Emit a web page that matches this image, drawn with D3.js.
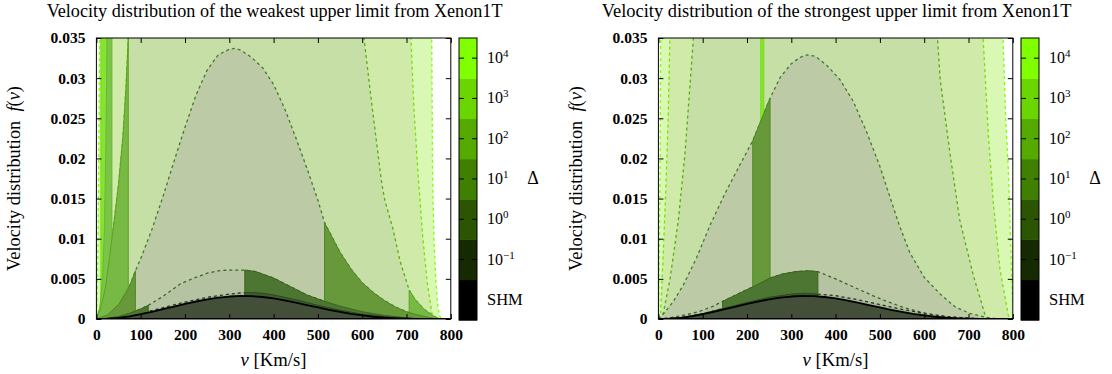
<!DOCTYPE html>
<html>
<head>
<meta charset="utf-8">
<script src="https://cdn.jsdelivr.net/npm/d3@7"></script>
<style>
  body { margin: 0; background: #fff; }
  svg { display: block; }
</style>
</head>
<body>
<svg id="chart" width="1112" height="374"></svg>
<script>
const SERIF = '"Liberation Serif"';

// axis ticks and colour-bar levels
const velocityTicks = [0, 100, 200, 300, 400, 500, 600, 700, 800];
const densityTicks = [0, 0.005, 0.01, 0.015, 0.02, 0.025, 0.03, 0.035];
const densityLabels = ['0', '0.005', '0.01', '0.015', '0.02', '0.025', '0.03', '0.035'];
const deltaLevels = ['SHM', '−1', '0', '1', '2', '3', '4'];
const panelTitles = [
  'Velocity distribution of the weakest upper limit from Xenon1T',
  'Velocity distribution of the strongest upper limit from Xenon1T'
];

// [v, f(v)]; 0.04 marks points above the frame
const shmCurve = [[0,0],[25,0.00004],[50,0.00015],[75,0.00034],[100,0.0006],[125,0.0009],[150,0.00122],
  [175,0.00155],[200,0.00188],[225,0.00218],[250,0.00245],[275,0.00265],[300,0.0028],[325,0.00287],
  [350,0.00285],[375,0.00274],[400,0.00256],[425,0.00232],[450,0.00204],[475,0.00174],[500,0.00144],
  [525,0.00115],[550,0.00088],[575,0.00064],[600,0.00044],[625,0.00028],[650,0.00016],[675,0.00008],
  [700,0.00003],[725,0.00001],[750,0],[800,0]];

// weakest limit
const weakLime = [[0,0],[2,0.004],[4,0.012],[6,0.025],[7,0.035],[8,0.04],[10,0.04],[23,0.04],[745,0.04],
  [757,0.035],[759,0.0173],[762,0.01],[766,0.005],[770,0.002],[774,0.0005],[778,0],[800,0]];
const weakLimeOn = [[10, 23]];
const weakPale = [[0,0],[8,0.0015],[14,0.005],[18,0.011],[21,0.02],[23,0.029],[24,0.035],[25,0.04],
  [35,0.04],[700,0.04],[710,0.035],[717,0.026],[727,0.0173],[737,0.01],[747,0.0045],[757,0.0008],
  [762,0],[800,0]];
const weakPaleOn = [[0, 35]];
const weakMid = [[0,0],[10,0.0014],[20,0.0038],[30,0.0078],[40,0.0122],[50,0.0168],[60,0.0228],[67,0.029],
  [72,0.035],[74,0.04],[595,0.04],[604,0.035],[620,0.0275],[643,0.0173],[651,0.0148],[670,0.0111],
  [685,0.0073],[706,0.0036],[720,0.0024],[740,0.0012],[760,0.0004],[775,0],[800,0]];
const weakMidOn = [[0, 72], [706, 800]];
const weakBell = [[0,0],[25,0.0005],[50,0.0018],[75,0.0041],[88,0.006],[100,0.0075],[125,0.0111],
  [150,0.0152],[175,0.0196],[200,0.0239],[225,0.0279],[250,0.031],[275,0.0329],[300,0.0336],[313,0.0337],
  [325,0.0335],[350,0.0326],[375,0.0313],[400,0.0292],[425,0.0262],[450,0.0226],[475,0.0188],[500,0.0148],
  [515,0.012],[550,0.0083],[575,0.0062],[600,0.0045],[625,0.0033],[650,0.0023],[675,0.0015],[700,0.0009],
  [725,0.0005],[750,0.0002],[770,0],[800,0]];
const weakBellOn = [[0, 88], [515, 800]];
const weakSix = [[0,0],[25,0.0001],[50,0.00032],[75,0.00072],[100,0.00125],[117,0.0017],[150,0.0028],
  [190,0.0044],[225,0.0052],[250,0.0057],[275,0.006],[300,0.0061],[335,0.0061],[360,0.0059],[400,0.0051],
  [425,0.0044],[450,0.0037],[475,0.003],[500,0.0025],[515,0.0022],[550,0.0016],[600,0.0009],[650,0.00045],
  [700,0.00015],[730,0],[800,0]];
const weakSixOn = [[0, 117], [335, 800]];
const weakNear = [[0,0],[50,0.00018],[100,0.00068],[150,0.0014],[200,0.0021],[250,0.0027],[300,0.0031],
  [335,0.0033],[350,0.0033],[375,0.0032],[400,0.003],[450,0.0024],[500,0.0017],[550,0.0011],[600,0.0006],
  [650,0.0003],[700,0.0001],[750,0],[800,0]];
const weakNearOn = [[335, 800]];

// strongest limit
const strongLime = [[0,0],[2,0.008],[4,0.02],[5,0.035],[6,0.04],[231,0.04],[238,0.04],[770,0.04],
  [778,0.035],[784,0.025],[790,0.0186],[797,0.0062],[800,0.002]];
const strongLimeOn = [[231, 238]];
const strongPale = [[0,0],[3,0.0003],[5,0.0007],[11,0.0082],[17,0.0165],[22,0.0248],[26,0.035],[28,0.04],
  [725,0.04],[733,0.035],[745,0.0228],[756,0.0145],[771,0.0062],[790,0.0004],[795,0],[800,0]];
const strongMid = [[0,0],[11,0.0007],[26,0.0049],[45,0.0123],[60,0.0206],[71,0.0289],[79,0.035],[82,0.04],
  [620,0.04],[630,0.035],[636,0.0299],[658,0.0207],[680,0.0124],[711,0.0054],[738,0.0004],[745,0],[800,0]];
const strongBell = [[0,0],[11,0.0006],[34,0.0022],[56,0.0042],[86,0.0076],[116,0.0116],[150,0.0156],
  [184,0.0192],[213,0.0222],[252,0.0275],[275,0.0301],[300,0.0318],[320,0.0326],[336,0.0329],[355,0.0327],
  [380,0.0316],[410,0.0298],[440,0.0271],[470,0.0233],[500,0.019],[525,0.0148],[545,0.0115],[568,0.0082],
  [600,0.0052],[636,0.0031],[670,0.0015],[703,0.0007],[740,0.0002],[770,0],[800,0]];
const strongBellOn = [[213, 252]];
const strongSix = [[0,0],[30,0.0002],[60,0.0005],[90,0.0009],[120,0.0015],[145,0.0022],[175,0.003],
  [213,0.004],[252,0.0051],[280,0.0056],[310,0.0059],[340,0.006],[360,0.0059],[400,0.005],[440,0.004],
  [480,0.003],[515,0.0022],[550,0.0015],[590,0.0009],[620,0.0005],[651,0.0003],[700,0.0001],[750,0],[800,0]];
const strongSixOn = [[145, 360]];
const strongNear = [[0,0],[50,0.00017],[100,0.00066],[145,0.0013],[200,0.00205],[250,0.0027],[300,0.0031],
  [330,0.0032],[360,0.0031],[400,0.0029],[450,0.0024],[500,0.0018],[550,0.0012],[600,0.0007],[650,0.0003],
  [700,0.0001],[750,0],[800,0]];
const strongNearOn = [[0, 360]];

// palette of the colour bar, bottom to top
const deltaColors = ['#000000', '#152a00', '#2b5500', '#408000', '#55aa00', '#6bd500', '#80ff00'];

const looks = {
  lime: {ghost: '#d8f8b4', fill: '#86e234', dash: '#80ff00', edge: '#78e010'},
  pale: {ghost: '#cfeaa9', fill: '#7cc449', dash: '#78e000', edge: '#6ab830'},
  mid:  {ghost: '#c5dfa6', fill: '#78b844', dash: '#5aaa10', edge: '#5aa520'},
  bell: {ghost: '#bccba6', fill: '#67993a', dash: '#46782a', edge: '#4a8a20'},
  six:  {ghost: '#b5c3a3', fill: '#4c7631', dash: '#3b6620', edge: '#3a661c'},
  near: {ghost: '#a9b398', fill: '#3e5a2e', dash: '#24361a', edge: '#2a4a1a'},
  shm:  {fill: '#434f38', edge: '#000000', width: 1.8}
};

const svg = d3.select('#chart');
const defs = svg.append('defs');

function fitText(sel, target) {
  const w = sel.node().getComputedTextLength();
  const size = parseFloat(sel.style('font-size'));
  sel.style('font-size', (size * target / w) + 'px');
}

function label(parent) {
  return parent.append('text').style('font-family', SERIF).attr('fill', '#000');
}

function drawPanel(p) {
  const x = d3.scaleLinear().domain([0, 800]).range([p.left, p.left + 354.4]);
  const y = d3.scaleLinear().domain([0, 0.035]).range([319, 38]);

  const clipId = 'clip-' + p.key;
  defs.append('clipPath').attr('id', clipId).append('rect')
    .attr('x', x(0)).attr('y', y(0.035))
    .attr('width', x(800) - x(0)).attr('height', y(0) - y(0.035));

  const area = d3.area().x(d => x(d[0])).y0(y(0)).y1(d => y(d[1]));
  const line = d3.line().x(d => x(d[0])).y(d => y(d[1]));
  const g = svg.append('g').attr('clip-path', `url(#${clipId})`);

  // whole curves: pale fill and dashed outline
  p.layers.forEach(l => {
    if (l.look.ghost) {
      g.append('path').attr('d', area(l.pts)).attr('fill', l.look.ghost);
    }
    if (l.look.dash) {
      g.append('path').attr('d', line(l.pts)).attr('fill', 'none')
        .attr('stroke', l.look.dash).attr('stroke-width', 1.3)
        .attr('stroke-dasharray', '3,3');
    }
  });

  // the velocity ranges where each curve is the bound
  p.layers.forEach(l => {
    l.on.forEach(([a, b]) => {
      const seg = l.pts.filter(d => d[0] >= a && d[0] <= b);
      g.append('path').attr('d', area(seg)).attr('fill', l.look.fill)
        .attr('stroke', l.look.edge).attr('stroke-width', l.look.width || 1)
        .attr('stroke-linejoin', 'round');
    });
  });

  // axes, ticks pointing inwards on all four sides
  const tickFont = sel => sel.attr('font-family', null).selectAll('text')
    .style('font-family', SERIF)
    .style('font-size', '15.5px').style('font-weight', 'bold').attr('fill', '#000');

  svg.append('g').attr('transform', `translate(0,${y(0)})`)
    .call(d3.axisBottom(x).tickValues(velocityTicks).tickSize(-5).tickPadding(10).tickFormat(d3.format('d')))
    .call(a => a.select('.domain').remove())
    .call(tickFont);
  svg.append('g').attr('transform', `translate(0,${y(0.035)})`)
    .call(d3.axisTop(x).tickValues(velocityTicks).tickSize(-5).tickFormat(''))
    .call(a => a.select('.domain').remove());
  svg.append('g').attr('transform', `translate(${x(0)},0)`)
    .call(d3.axisLeft(y).tickValues(densityTicks).tickSize(-5).tickPadding(11)
      .tickFormat((d, i) => densityLabels[i]))
    .call(a => a.select('.domain').remove())
    .call(tickFont);
  svg.append('g').attr('transform', `translate(${x(800)},0)`)
    .call(d3.axisRight(y).tickValues(densityTicks).tickSize(-5).tickFormat(''))
    .call(a => a.select('.domain').remove());

  svg.append('rect')
    .attr('x', x(0)).attr('y', y(0.035))
    .attr('width', x(800) - x(0)).attr('height', y(0) - y(0.035))
    .attr('fill', 'none').attr('stroke', '#000').attr('stroke-width', 1);

  // title and axis labels
  const title = label(svg)
    .attr('x', (x(0) + x(800)) / 2 + 1).attr('y', 17)
    .attr('text-anchor', 'middle').style('font-size', '16px').text(p.title);
  fitText(title, p.titleWidth);

  const ylab = label(svg)
    .attr('transform', `translate(${x(0) - 76},${(y(0) + y(0.035)) / 2}) rotate(-90)`)
    .attr('text-anchor', 'middle').style('font-size', '16px');
  ylab.append('tspan').text('Velocity distribution\u2002');
  ylab.append('tspan').style('font-style', 'italic').text('f');
  ylab.append('tspan').text('(');
  ylab.append('tspan').style('font-style', 'italic').text('v');
  ylab.append('tspan').text(')');
  fitText(ylab, 185);

  const xlab = label(svg)
    .attr('x', (x(0) + x(800)) / 2).attr('y', 366)
    .attr('text-anchor', 'middle').style('font-size', '16px');
  xlab.append('tspan').style('font-style', 'italic').text('v');
  xlab.append('tspan').text(' [Km/s]');
  fitText(xlab, 66);

  // colour bar
  const band = d3.scaleBand().domain(deltaLevels).range([320, 38]);
  const cb = svg.append('g');
  cb.selectAll('rect.seg').data(deltaLevels).join('rect')
    .attr('class', 'seg')
    .attr('x', p.bar).attr('y', d => band(d))
    .attr('width', 18).attr('height', band.bandwidth() + 0.5)
    .attr('fill', (d, i) => deltaColors[i]);
  cb.append('rect')
    .attr('x', p.bar).attr('y', 38).attr('width', 18).attr('height', 282)
    .attr('fill', 'none').attr('stroke', '#000').attr('stroke-width', 1);

  deltaLevels.forEach(d => {
    const cy = band(d) + band.bandwidth() / 2;
    if (d !== 'SHM') {
      cb.append('line').attr('x1', p.bar).attr('x2', p.bar + 5).attr('y1', cy).attr('y2', cy)
        .attr('stroke', '#000');
      cb.append('line').attr('x1', p.bar + 13).attr('x2', p.bar + 18).attr('y1', cy).attr('y2', cy)
        .attr('stroke', '#000');
      const t = label(cb).attr('x', p.bar + 28).attr('y', cy + 5).style('font-size', '16px');
      t.append('tspan').text('10');
      t.append('tspan').attr('dy', -6).style('font-size', '11px').text(d);
    } else {
      label(cb).attr('x', p.bar + 28).attr('y', cy + 5.5)
        .style('font-size', '16.5px').text('SHM');
    }
  });
  label(cb).attr('x', p.bar + 74).attr('y', 184)
    .attr('text-anchor', 'middle').style('font-size', '18px').text('Δ');
}

const shmLayer = {pts: shmCurve, on: [[0, 800]], look: looks.shm};

drawPanel({
  key: 'weak', left: 96.4, bar: 459, title: panelTitles[0], titleWidth: 456,
  layers: [
    {pts: weakLime, on: weakLimeOn, look: looks.lime},
    {pts: weakPale, on: weakPaleOn, look: looks.pale},
    {pts: weakMid, on: weakMidOn, look: looks.mid},
    {pts: weakBell, on: weakBellOn, look: looks.bell},
    {pts: weakSix, on: weakSixOn, look: looks.six},
    {pts: weakNear, on: weakNearOn, look: looks.near},
    shmLayer
  ]
});

drawPanel({
  key: 'strong', left: 658.4, bar: 1021, title: panelTitles[1], titleWidth: 470,
  layers: [
    {pts: strongLime, on: strongLimeOn, look: looks.lime},
    {pts: strongPale, on: [], look: looks.pale},
    {pts: strongMid, on: [], look: looks.mid},
    {pts: strongBell, on: strongBellOn, look: looks.bell},
    {pts: strongSix, on: strongSixOn, look: looks.six},
    {pts: strongNear, on: strongNearOn, look: looks.near},
    shmLayer
  ]
});
</script>
</body>
</html>
